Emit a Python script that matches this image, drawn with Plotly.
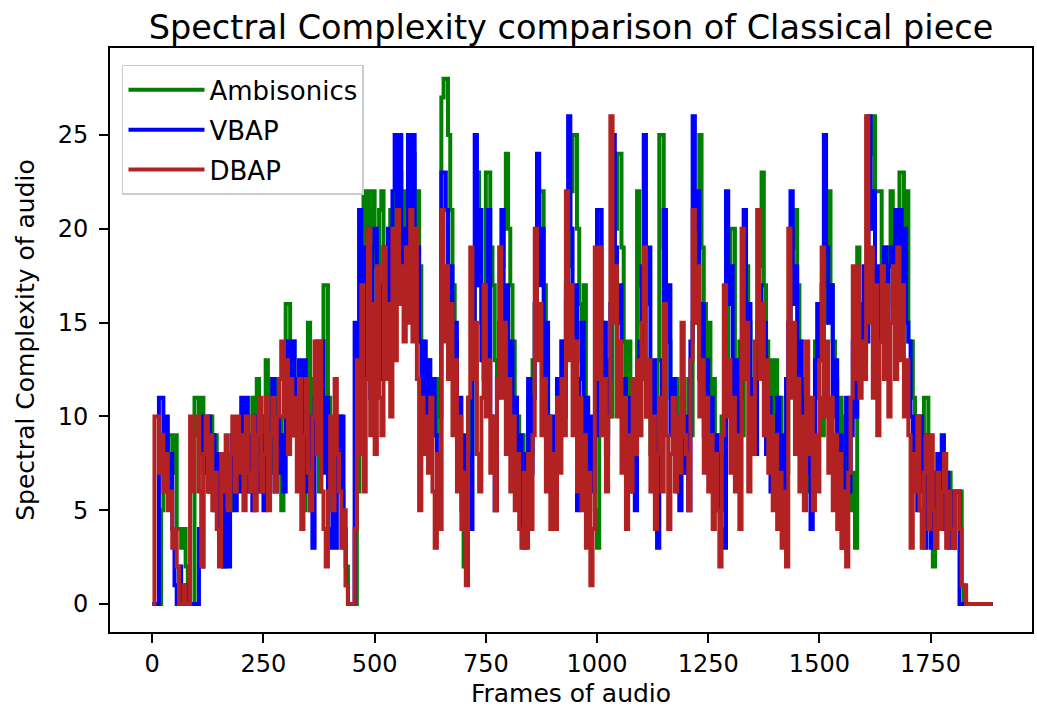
import plotly.graph_objects as go

# Frame index (every 5th frame of audio)
frames = list(range(0, 1895, 5))

ambisonics = [
    0, 0, 0, 0, 5, 7, 6, 9, 9, 7, 9, 4, 4, 3, 4, 2, 0, 0, 0, 11,
    11, 8, 11, 7, 9, 6, 10, 7, 9, 5, 8, 4, 2, 6, 8, 5, 9, 6, 8, 7,
    9, 6, 10, 7, 8, 11, 7, 12, 8, 10, 6, 13, 9, 12, 7, 12, 8, 10, 5, 9,
    16, 16, 11, 14, 9, 12, 7, 10, 5, 9, 15, 10, 12, 8, 11, 6, 10, 17, 17, 11,
    8, 5, 7, 10, 10, 6, 3, 2, 0, 0, 0, 0, 6, 10, 14, 22, 12, 22, 14, 22,
    18, 12, 21, 22, 15, 18, 14, 21, 17, 22, 19, 23, 18, 22, 16, 20, 24, 24, 18, 22,
    18, 14, 12, 10, 13, 10, 12, 9, 12, 10, 27, 28, 28, 25, 21, 17, 14, 10, 7, 5,
    2, 8, 11, 8, 14, 18, 23, 17, 15, 12, 23, 23, 19, 17, 13, 11, 15, 18, 20, 24,
    20, 17, 14, 11, 10, 7, 9, 5, 8, 11, 8, 13, 16, 18, 22, 22, 17, 13, 10, 8,
    9, 7, 12, 9, 14, 11, 16, 18, 22, 25, 25, 20, 16, 13, 17, 11, 9, 7, 9, 5,
    3, 21, 15, 12, 9, 13, 10, 17, 20, 24, 24, 19, 14, 11, 14, 9, 12, 9, 22, 17,
    15, 12, 10, 13, 8, 11, 8, 13, 25, 25, 19, 16, 14, 11, 9, 12, 6, 9, 11, 8,
    7, 12, 9, 15, 18, 21, 25, 19, 16, 13, 15, 9, 12, 7, 9, 6, 10, 5, 12, 16,
    20, 20, 13, 10, 14, 9, 21, 18, 15, 11, 9, 12, 15, 18, 23, 17, 14, 11, 13, 9,
    13, 8, 11, 6, 9, 7, 12, 16, 19, 21, 17, 14, 12, 9, 11, 6, 9, 6, 14, 11,
    11, 9, 15, 19, 22, 17, 14, 12, 9, 11, 8, 10, 6, 9, 5, 7, 3, 19, 13, 16,
    13, 18, 20, 24, 26, 22, 22, 22, 15, 19, 16, 19, 22, 18, 16, 20, 23, 23, 19, 22,
    14, 14, 11, 8, 10, 6, 9, 11, 11, 7, 5, 2, 4, 7, 5, 8, 8, 5, 7, 4,
    5, 6, 6, 6, 1, 0, 0, 0, 0, 0, 0, 0, 0, 0, 0, 0, 0, 0, 0,
]

vbap = [
    0, 0, 0, 11, 11, 8, 10, 6, 8, 4, 1, 0, 2, 0, 0, 1, 0, 0, 0, 0,
    0, 4, 2, 10, 7, 10, 6, 9, 5, 8, 4, 7, 2, 5, 2, 6, 9, 5, 8, 6,
    11, 7, 11, 6, 9, 5, 10, 7, 6, 9, 5, 10, 7, 9, 12, 6, 10, 7, 9, 6,
    10, 14, 9, 14, 9, 12, 13, 7, 13, 6, 10, 5, 3, 11, 14, 8, 14, 7, 11, 4,
    3, 6, 3, 10, 6, 10, 4, 1, 0, 0, 0, 15, 10, 21, 14, 19, 12, 20, 11, 19,
    20, 14, 17, 12, 19, 13, 20, 15, 22, 25, 17, 25, 16, 20, 16, 25, 18, 25, 15, 19,
    14, 11, 14, 9, 13, 10, 12, 9, 6, 4, 23, 23, 21, 15, 18, 12, 15, 9, 11, 7,
    9, 5, 8, 4, 12, 25, 17, 21, 13, 17, 12, 21, 10, 8, 5, 12, 15, 21, 14, 17,
    10, 14, 8, 11, 6, 9, 4, 3, 8, 12, 7, 11, 16, 24, 17, 20, 12, 15, 8, 6,
    10, 6, 12, 9, 14, 10, 17, 26, 20, 14, 17, 5, 12, 15, 9, 11, 7, 10, 6, 9,
    21, 21, 12, 15, 8, 12, 16, 25, 19, 15, 17, 10, 12, 8, 11, 6, 11, 5, 9, 14,
    18, 25, 16, 19, 10, 13, 6, 3, 9, 13, 21, 14, 17, 9, 12, 8, 10, 5, 12, 7,
    10, 5, 14, 26, 20, 22, 12, 16, 9, 13, 8, 11, 6, 9, 5, 8, 4, 3, 22, 16,
    18, 10, 13, 8, 11, 14, 21, 14, 16, 9, 12, 8, 13, 17, 12, 15, 8, 11, 6, 9,
    7, 11, 6, 9, 5, 12, 15, 22, 16, 18, 11, 14, 8, 11, 7, 10, 4, 8, 13, 16,
    13, 17, 25, 19, 15, 17, 10, 13, 7, 9, 3, 8, 11, 6, 9, 14, 10, 13, 16, 12,
    18, 14, 26, 20, 22, 15, 18, 14, 17, 19, 14, 18, 19, 15, 21, 16, 21, 17, 20, 15,
    14, 10, 8, 10, 5, 10, 7, 3, 9, 5, 3, 7, 3, 8, 5, 9, 4, 7, 3, 6,
    3, 6, 6, 0, 0, 0, 0, 0, 0, 0, 0, 0, 0, 0, 0, 0, 0, 0, 0,
]

dbap = [
    0, 10, 10, 7, 9, 6, 8, 5, 6, 3, 4, 2, 0, 0, 1, 0, 0, 10, 6, 9,
    10, 6, 2, 8, 10, 6, 9, 5, 7, 4, 2, 8, 6, 9, 5, 8, 10, 6, 10, 7,
    9, 5, 10, 7, 6, 10, 5, 9, 11, 6, 8, 11, 5, 9, 11, 6, 10, 12, 14, 10,
    13, 8, 12, 9, 11, 6, 12, 4, 9, 12, 7, 5, 10, 14, 8, 14, 6, 4, 2, 6,
    10, 5, 12, 8, 6, 3, 5, 1, 0, 0, 0, 4, 13, 8, 17, 6, 12, 20, 9, 16,
    8, 18, 11, 9, 19, 12, 16, 10, 20, 13, 21, 16, 18, 14, 19, 15, 21, 14, 20, 12,
    5, 11, 8, 10, 7, 11, 6, 3, 8, 4, 21, 14, 18, 12, 16, 9, 13, 6, 10, 4,
    7, 1, 11, 19, 12, 15, 8, 6, 11, 17, 10, 13, 7, 10, 5, 12, 19, 11, 15, 8,
    12, 6, 10, 5, 8, 4, 3, 7, 3, 8, 4, 9, 20, 13, 16, 9, 12, 6, 10, 4,
    8, 4, 11, 7, 12, 9, 22, 13, 17, 9, 14, 6, 11, 5, 9, 3, 7, 1, 4, 19,
    12, 19, 9, 12, 6, 10, 26, 15, 18, 10, 14, 7, 11, 4, 9, 6, 12, 8, 13, 9,
    15, 19, 10, 13, 6, 10, 4, 8, 11, 6, 16, 9, 4, 8, 11, 6, 10, 7, 15, 9,
    8, 5, 13, 21, 15, 18, 10, 13, 7, 11, 6, 9, 4, 8, 5, 2, 9, 17, 10, 13,
    7, 11, 6, 9, 4, 20, 12, 15, 6, 11, 8, 14, 21, 12, 16, 9, 13, 7, 10, 5,
    9, 4, 7, 3, 6, 2, 20, 11, 15, 8, 12, 6, 10, 5, 14, 8, 11, 5, 9, 6,
    13, 19, 10, 14, 7, 11, 5, 9, 4, 8, 3, 6, 2, 7, 11, 18, 12, 18, 11, 14,
    12, 26, 15, 19, 11, 17, 9, 14, 18, 12, 17, 10, 15, 18, 12, 19, 13, 17, 10, 13,
    9, 3, 8, 6, 10, 5, 3, 7, 9, 4, 9, 5, 3, 7, 4, 6, 8, 3, 6, 4,
    3, 6, 6, 4, 1, 1, 0, 0, 0, 0, 0, 0, 0, 0, 0, 0, 0, 0, 0,
]

series = [
    ("Ambisonics", ambisonics, "#008000"),
    ("VBAP", vbap, "#0000ff"),
    ("DBAP", dbap, "#b22222"),
]

x_ticks = [0, 250, 500, 750, 1000, 1250, 1500, 1750]
y_ticks = [0, 5, 10, 15, 20, 25]

FONT = "DejaVu Sans"

fig = go.Figure()
for i, (name, vals, color) in enumerate(series):
    fig.add_trace(go.Scatter(
        x=frames, y=vals, mode="lines", name=name,
        line=dict(color=color, width=4, shape="hv"),
        legendgroup=f"g{i}",
    ))

axis_common = dict(
    showgrid=False, zeroline=False,
    showline=True, linecolor="black", linewidth=2, mirror=True,
    ticks="outside", ticklen=9, tickwidth=2, tickcolor="black",
    tickfont=dict(family=FONT, size=24, color="black"),
)

fig.update_layout(
    width=1037, height=712,
    margin=dict(l=110, r=3, t=48, b=80),
    paper_bgcolor="white", plot_bgcolor="white",
    font=dict(family=FONT, color="black"),
    title=dict(
        text="Spectral Complexity comparison of Classical piece",
        font=dict(family=FONT, size=33.5, color="black"),
        x=0.5, xref="paper", xanchor="center",
        y=1 - 27 / 712, yref="container", yanchor="middle",
    ),
    xaxis=dict(
        range=[-95, 1978], tickvals=x_ticks, ticklabelstandoff=0,
        title=dict(text="Frames of audio", font=dict(family=FONT, size=25), standoff=8),
        **axis_common,
    ),
    yaxis=dict(
        range=[-1.49, 29.64], tickvals=y_ticks, ticklabelstandoff=6,
        title=dict(text="Spectral Complexity of audio", font=dict(family=FONT, size=25), standoff=16),
        **axis_common,
    ),
    legend=dict(
        x=0.013, y=0.971, xanchor="left", yanchor="top",
        bgcolor="rgba(255,255,255,0.8)", bordercolor="#cccccc", borderwidth=1.5,
        font=dict(family=FONT, size=26, color="black"),
        tracegroupgap=3, itemwidth=76,
    ),
    showlegend=True,
)

fig.write_html("out.html")
